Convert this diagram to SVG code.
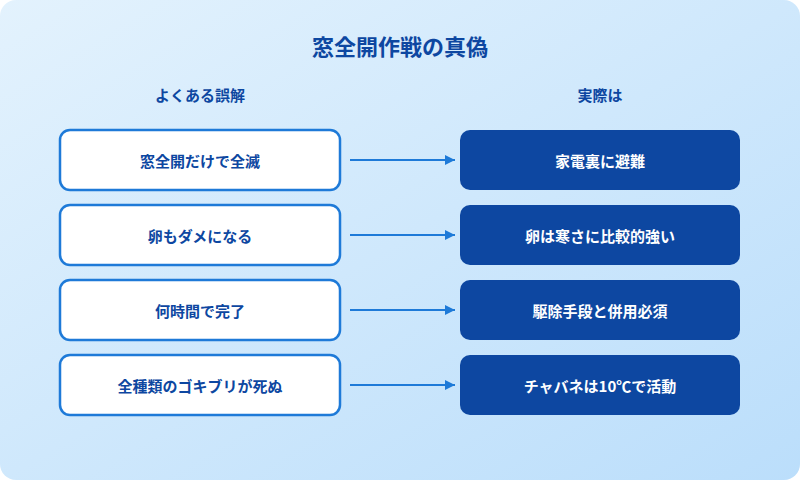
<svg xmlns="http://www.w3.org/2000/svg" width="800" height="480" viewBox="0 0 800 480">
<defs>
<linearGradient id="bg" x1="0" y1="0" x2="1" y2="1"><stop offset="0" stop-color="#e3f2fd"/><stop offset="1" stop-color="#bbdefb"/></linearGradient>
<marker id="ah" viewBox="0 0 10 10" refX="10" refY="5" markerWidth="10" markerHeight="10" markerUnits="userSpaceOnUse" orient="auto"><path d="M0,0 L10,5 L0,10 z" fill="#1e7ad8"/></marker>
<style>
text{font-family:"Noto Sans CJK JP",sans-serif;font-weight:bold;text-anchor:middle;dominant-baseline:central}
.l rect{fill:#fff;stroke:#1e7ad8;stroke-width:2.5}
.l text{fill:#0d47a1;font-size:15px}
.r rect{fill:#0d47a1}
.r text{fill:#fff;font-size:15px}
.h{fill:#0d47a1;font-size:15px}
#conn line{stroke:#1e7ad8;stroke-width:2;marker-end:url(#ah)}
</style>
</defs>
<rect width="800" height="480" rx="16" fill="url(#bg)"/>
<text x="400" y="45" fill="#0d47a1" style="font-size:22px">窓全開作戦の真偽</text>
<text class="h" x="200" y="94">よくある誤解</text>
<text class="h" x="600" y="94">実際は</text>
<g id="conn">
<line x1="350" y1="160" x2="455" y2="160"/>
<line x1="350" y1="235" x2="455" y2="235"/>
<line x1="350" y1="310" x2="455" y2="310"/>
<line x1="350" y1="385" x2="455" y2="385"/>
</g>
<g id="m1" class="l"><rect x="60" y="130" width="280" height="60" rx="10"/><text x="200" y="160">窓全開だけで全滅</text></g>
<g id="m2" class="l"><rect x="60" y="205" width="280" height="60" rx="10"/><text x="200" y="235">卵もダメになる</text></g>
<g id="m3" class="l"><rect x="60" y="280" width="280" height="60" rx="10"/><text x="200" y="310">何時間で完了</text></g>
<g id="m4" class="l"><rect x="60" y="355" width="280" height="60" rx="10"/><text x="200" y="385">全種類のゴキブリが死ぬ</text></g>
<g id="f1" class="r"><rect x="460" y="130" width="280" height="60" rx="10"/><text x="600" y="160">家電裏に避難</text></g>
<g id="f2" class="r"><rect x="460" y="205" width="280" height="60" rx="10"/><text x="600" y="235">卵は寒さに比較的強い</text></g>
<g id="f3" class="r"><rect x="460" y="280" width="280" height="60" rx="10"/><text x="600" y="310">駆除手段と併用必須</text></g>
<g id="f4" class="r"><rect x="460" y="355" width="280" height="60" rx="10"/><text x="600" y="385">チャバネは10℃で活動</text></g>
</svg>
